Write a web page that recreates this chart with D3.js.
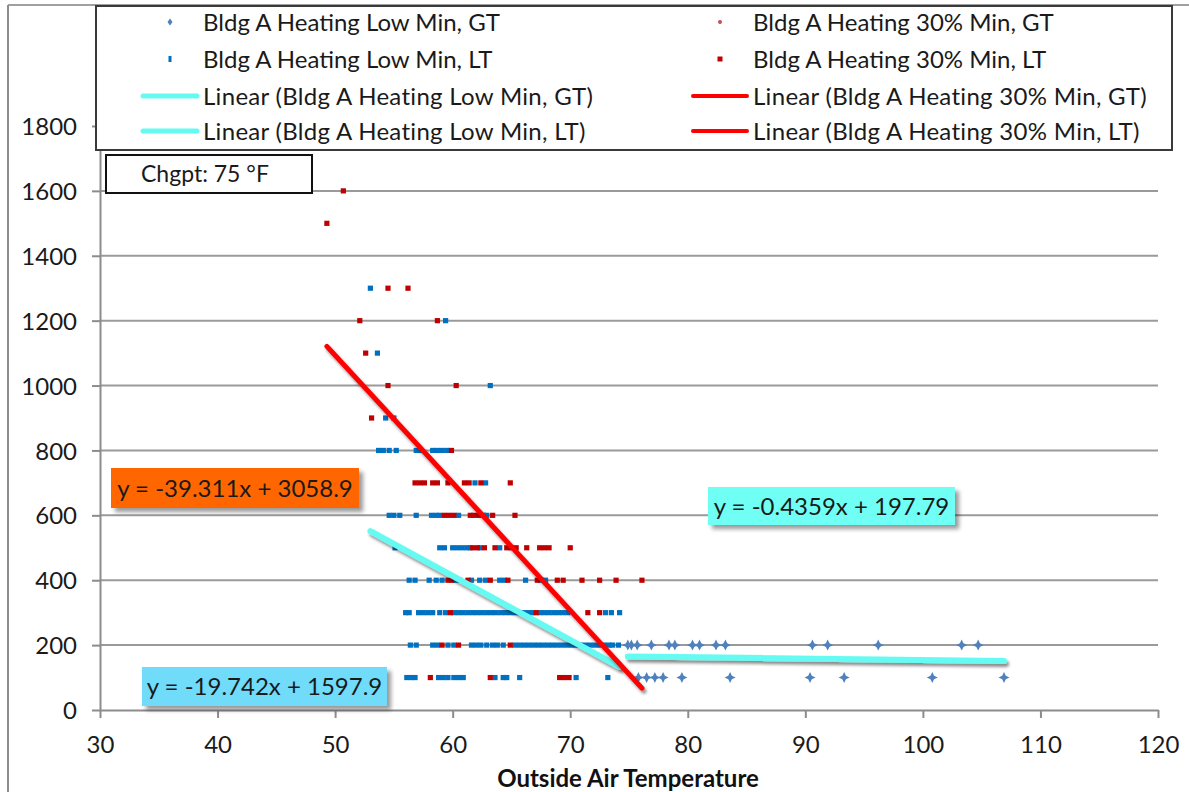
<!DOCTYPE html>
<html>
<head>
<meta charset="utf-8">
<script src="https://cdn.jsdelivr.net/npm/d3@7"></script>
<style>
  html, body { margin: 0; padding: 0; background: #fff; }
  svg { display: block; font-family: Lato, "Open Sans", sans-serif; }
</style>
</head>
<body>
<svg id="chart" width="1189" height="792"></svg>
<script>
// ---- data: [outside air temperature (°F), heating value] ----
const lowMinGT = [
  [74.9,200],[75.2,200],[75.7,200],[76.9,200],[78.4,200],[78.9,200],[80.4,200],[81.0,200],
  [82.4,200],[83.2,200],[90.6,200],[91.9,200],[96.2,200],[103.3,200],[104.7,200],
  [75.8,100],[76.5,100],[77.2,100],[77.9,100],[79.5,100],[83.6,100],[90.4,100],[93.3,100],
  [100.8,100],[106.9,100]
];
const lowMinLT = [
  [53.0,1300],
  [59.4,1200],
  [53.6,1100],
  [63.2,1000],
  [54.3,900],[55.0,900],
  [53.7,800],[54.1,800],[54.6,800],[55.2,800],[56.9,800],[57.2,800],[58.3,800],[58.7,800],[59.1,800],[59.5,800],
  [61.9,700],[62.8,700],
  [54.6,600],[55.0,600],[55.5,600],[56.9,600],[58.2,600],[58.6,600],[58.9,600],[60.5,600],[62.6,600],[62.9,600],
  [55.1,500],[58.9,500],[59.3,500],[60.0,500],[60.4,500],[60.8,500],[61.2,500],[61.5,500],[62.3,500],[64.0,500],
  [56.3,400],[56.8,400],[58.0,400],[58.6,400],[59.1,400],[60.2,400],[60.6,400],[61.6,400],[62.3,400],[62.8,400],
  [64.0,400],[64.4,400],[66.2,400],[67.5,400],[67.9,400],
  [56.0,300],[56.3,300],[57.1,300],[57.5,300],[57.9,300],[58.3,300],[58.9,300],[59.4,300],[60.1,300],[60.5,300],
  [60.9,300],[61.3,300],[61.7,300],[62.1,300],[62.5,300],[62.9,300],[63.3,300],[63.7,300],[64.1,300],[64.5,300],
  [64.9,300],[65.3,300],[65.7,300],[66.1,300],[66.5,300],[66.8,300],[67.4,300],[67.8,300],[68.2,300],[68.6,300],
  [69.0,300],[69.4,300],[69.8,300],[73.0,300],[73.5,300],[74.2,300],
  [56.4,200],[56.9,200],[58.3,200],[58.7,200],[59.6,200],[60.1,200],[61.6,200],[62.0,200],[62.4,200],[62.9,200],
  [63.4,200],[63.8,200],[64.3,200],[65.3,200],[65.7,200],[66.1,200],[66.5,200],[66.9,200],[67.3,200],[67.7,200],
  [68.1,200],[68.5,200],[68.9,200],[69.3,200],[69.7,200],[70.1,200],[70.5,200],[70.9,200],[71.3,200],[71.7,200],
  [72.1,200],[72.5,200],[72.9,200],[73.3,200],[73.6,200],[74.1,200],
  [56.1,100],[56.5,100],[56.8,100],[58.8,100],[59.2,100],[59.6,100],[60.1,100],[60.5,100],[60.9,100],[63.6,100],
  [64.3,100],[64.6,100],[65.7,100],[70.5,100],[73.2,100]
];
const pctMinGT = [];
const pctMinLT = [
  [50.7,1600],
  [49.3,1500],
  [54.5,1300],[56.2,1300],
  [52.1,1200],[58.7,1200],
  [52.6,1100],
  [54.5,1000],[60.3,1000],
  [53.1,900],
  [59.9,800],
  [56.8,700],[57.2,700],[57.6,700],[58.3,700],[58.7,700],[59.6,700],[61.0,700],[61.4,700],[62.4,700],[64.9,700],
  [59.3,600],[59.7,600],[60.1,600],[61.5,600],[61.8,600],[62.2,600],[63.4,600],[65.3,600],
  [61.7,500],[62.1,500],[62.7,500],[63.6,500],[64.6,500],[65.0,500],[65.4,500],[66.3,500],[67.4,500],[67.8,500],
  [68.2,500],[70.0,500],
  [59.6,400],[59.9,400],[61.3,400],[63.2,400],[64.7,400],[67.2,400],[68.9,400],[69.4,400],[71.0,400],[72.5,400],
  [73.9,400],[76.1,400],
  [59.8,300],[67.1,300],[71.5,300],[72.5,300],
  [59.1,200],[60.5,200],[64.9,200],
  [58.1,100],[63.2,100],[69.1,100],[69.5,100],[69.9,100]
];

// linear trend fits (slope, intercept) as reported on the chart
const fitLowGT = [-0.4359, 197.79];
const fitLowLT = [-19.742, 1597.9];
const fitPctLT = [-39.311, 3058.9];

const xTicks = [30, 40, 50, 60, 70, 80, 90, 100, 110, 120];
const yTicks = [0, 200, 400, 600, 800, 1000, 1200, 1400, 1600, 1800];
const legendNames = [
  "Bldg A Heating Low Min, GT", "Bldg A Heating 30% Min, GT",
  "Bldg A Heating Low Min, LT", "Bldg A Heating 30% Min, LT",
  "Linear (Bldg A Heating Low Min, GT)", "Linear (Bldg A Heating 30% Min, GT)",
  "Linear (Bldg A Heating Low Min, LT)", "Linear (Bldg A Heating 30% Min, LT)"
];
const xTitle = "Outside Air Temperature";
const changepointLabel = "Chgpt: 75 °F";

// ---- drawing ----
const W = 1189, H = 792;
const svg = d3.select("#chart");
const x = d3.scaleLinear().domain([30, 120]).range([100, 1158]);
const y = d3.scaleLinear().domain([0, 2000]).range([710, 61.1]);

const C = {
  blueSq: "#0070c0", blueDia: "#4f81bd", redSq: "#c00000", redDot: "#c0504d",
  cyanLine: "#66fbf2", redLine: "#ff0000", grid: "#9a9a9a", axis: "#8c8c8c", text: "#1a1a1a"
};

const defs = svg.append("defs");
const lineShadow = defs.append("filter").attr("id", "lineShadow")
  .attr("filterUnits", "userSpaceOnUse").attr("x", 0).attr("y", 0).attr("width", W).attr("height", H);
lineShadow.append("feDropShadow").attr("dx", 2).attr("dy", 3).attr("stdDeviation", 1.8)
  .attr("flood-color", "#000").attr("flood-opacity", 0.45);
const boxShadow = defs.append("filter").attr("id", "boxShadow")
  .attr("x", "-10%").attr("y", "-30%").attr("width", "125%").attr("height", "170%");
boxShadow.append("feDropShadow").attr("dx", 4).attr("dy", 4).attr("stdDeviation", 2)
  .attr("flood-color", "#000").attr("flood-opacity", 0.4);

// outer chart frame
svg.append("line").attr("x1", 8).attr("x2", W).attr("y1", 5).attr("y2", 5)
  .attr("stroke", "#a0a0a0").attr("stroke-width", 2);
svg.append("line").attr("x1", 8).attr("x2", 8).attr("y1", 5).attr("y2", H)
  .attr("stroke", "#8c8c8c").attr("stroke-width", 2);

// gridlines
svg.append("g").selectAll("line").data(yTicks.filter(d => d > 0)).join("line")
  .attr("x1", x(30)).attr("x2", x(120))
  .attr("y1", d => y(d)).attr("y2", d => y(d))
  .attr("stroke", C.grid).attr("stroke-width", 2);

// axes
const yAxis = svg.append("g").attr("transform", `translate(${x(30)},0)`)
  .call(d3.axisLeft(y).tickValues(yTicks).tickFormat(d3.format("d"))
    .tickSize(8).tickPadding(15).tickSizeOuter(0));
const xAxis = svg.append("g").attr("transform", `translate(0,${y(0)})`)
  .call(d3.axisBottom(x).tickValues(xTicks).tickFormat(d3.format("d"))
    .tickSize(8).tickPadding(18).tickSizeOuter(0));
[yAxis, xAxis].forEach(g => {
  g.select(".domain").attr("stroke", C.axis).attr("stroke-width", 2);
  g.selectAll(".tick line").attr("stroke", C.axis).attr("stroke-width", 2);
  g.selectAll(".tick text").attr("fill", C.text).style("font-size", "24px").style("font-family", "Lato");
});
yAxis.selectAll(".tick text").attr("dy", "0.36em");

svg.append("text").attr("x", 628).attr("y", 787).attr("text-anchor", "middle")
  .style("font-size", "24px").style("font-weight", "bold").attr("fill", "#111").text(xTitle);

// scatter markers
const diamond = "M0,-5.5L1.8,-1.8L5.5,0L1.8,1.8L0,5.5L-1.8,1.8L-5.5,0L-1.8,-1.8Z";
svg.append("g").selectAll("path").data(lowMinGT).join("path")
  .attr("d", diamond).attr("fill", C.blueDia)
  .attr("transform", d => `translate(${x(d[0])},${y(d[1])})`);
svg.append("g").selectAll("rect").data(lowMinLT).join("rect")
  .attr("x", d => x(d[0]) - 2.6).attr("y", d => y(d[1]) - 2.6)
  .attr("width", 5.2).attr("height", 5.2).attr("fill", C.blueSq);
svg.append("g").selectAll("circle").data(pctMinGT).join("circle")
  .attr("cx", d => x(d[0])).attr("cy", d => y(d[1])).attr("r", 2).attr("fill", C.redDot);
svg.append("g").selectAll("rect").data(pctMinLT).join("rect")
  .attr("x", d => x(d[0]) - 2.6).attr("y", d => y(d[1]) - 2.6)
  .attr("width", 5.2).attr("height", 5.2).attr("fill", C.redSq);

// trendlines over each series' temperature range
function trend(data, fit) {
  const [a, b] = d3.extent(data, d => d[0]);
  return [[a, fit[0] * a + fit[1]], [b, fit[0] * b + fit[1]]];
}
const line = d3.line().x(d => x(d[0])).y(d => y(d[1]));
const trends = [
  { pts: trend(lowMinGT, fitLowGT), color: C.cyanLine, w: 6 },
  { pts: trend(lowMinLT, fitLowLT), color: C.cyanLine, w: 6 },
  { pts: trend(pctMinLT, fitPctLT), color: C.redLine, w: 5 }
];
svg.append("g").selectAll("path").data(trends).join("path")
  .attr("d", d => line(d.pts)).attr("fill", "none")
  .attr("stroke", d => d.color).attr("stroke-width", d => d.w)
  .attr("stroke-linecap", "round").attr("filter", "url(#lineShadow)");

// trend equation labels
const fmt = f => `y = ${f[0]}x + ${f[1]}`;
const eqLabels = [
  { text: fmt(fitPctLT), fill: "#ff6600", x: 111, y: 468, w: 248, h: 40 },
  { text: fmt(fitLowGT), fill: "#6ffff5", x: 708, y: 487, w: 247, h: 38 },
  { text: fmt(fitLowLT), fill: "#70dcfa", x: 142, y: 667, w: 245, h: 39 }
];
const eq = svg.append("g").selectAll("g").data(eqLabels).join("g");
eq.append("rect").attr("x", d => d.x).attr("y", d => d.y).attr("width", d => d.w).attr("height", d => d.h)
  .attr("fill", d => d.fill).attr("filter", "url(#boxShadow)");
eq.append("text").attr("x", d => d.x + d.w / 2).attr("y", d => d.y + d.h / 2 + 8.5)
  .attr("text-anchor", "middle").style("font-size", "24px").attr("fill", C.text).text(d => d.text);

// changepoint note
svg.append("rect").attr("x", 106).attr("y", 155).attr("width", 206).attr("height", 38)
  .attr("fill", "#fff").attr("stroke", "#111").attr("stroke-width", 2);
svg.append("text").attr("x", 141).attr("y", 182).style("font-size", "23px").attr("fill", C.text)
  .text(changepointLabel);

// legend
svg.append("rect").attr("x", 96).attr("y", 6).attr("width", 1076).attr("height", 144)
  .attr("fill", "#fff").attr("stroke", "#3a3a3a").attr("stroke-width", 2);
const rowsY = [22, 59, 96, 131];
const colX = [{ mark: 170, text: 203 }, { mark: 720, text: 753 }];
const leg = svg.append("g").selectAll("g").data(legendNames).join("g")
  .attr("transform", (d, i) => `translate(${colX[i % 2].mark},${rowsY[Math.floor(i / 2)]})`);
leg.append("text").attr("x", (d, i) => colX[i % 2].text - colX[i % 2].mark).attr("y", 8.5)
  .style("font-size", "24px").attr("fill", C.text)
  .style("letter-spacing", (d, i) => i >= 4 ? "0.3px" : null).text(d => d);
leg.each(function (d, i) {
  const g = d3.select(this);
  const row = Math.floor(i / 2), col = i % 2;
  if (row === 0 && col === 0) g.append("path").attr("d", "M0,-3.5L2.5,0L0,3.5L-2.5,0Z").attr("fill", C.blueDia);
  if (row === 0 && col === 1) g.append("circle").attr("r", 2).attr("fill", C.redDot);
  if (row === 1 && col === 0) g.append("rect").attr("x", -1.5).attr("y", -3).attr("width", 3).attr("height", 6).attr("fill", C.blueSq);
  if (row === 1 && col === 1) g.append("rect").attr("x", -2.5).attr("y", -2.5).attr("width", 5).attr("height", 5).attr("fill", C.redSq);
  if (row >= 2) g.append("line").attr("x1", -27).attr("x2", 27)
    .attr("stroke", col === 0 ? C.cyanLine : C.redLine).attr("stroke-width", col === 0 ? 5 : 4)
    .attr("stroke-linecap", "round");
});
</script>
</body>
</html>
